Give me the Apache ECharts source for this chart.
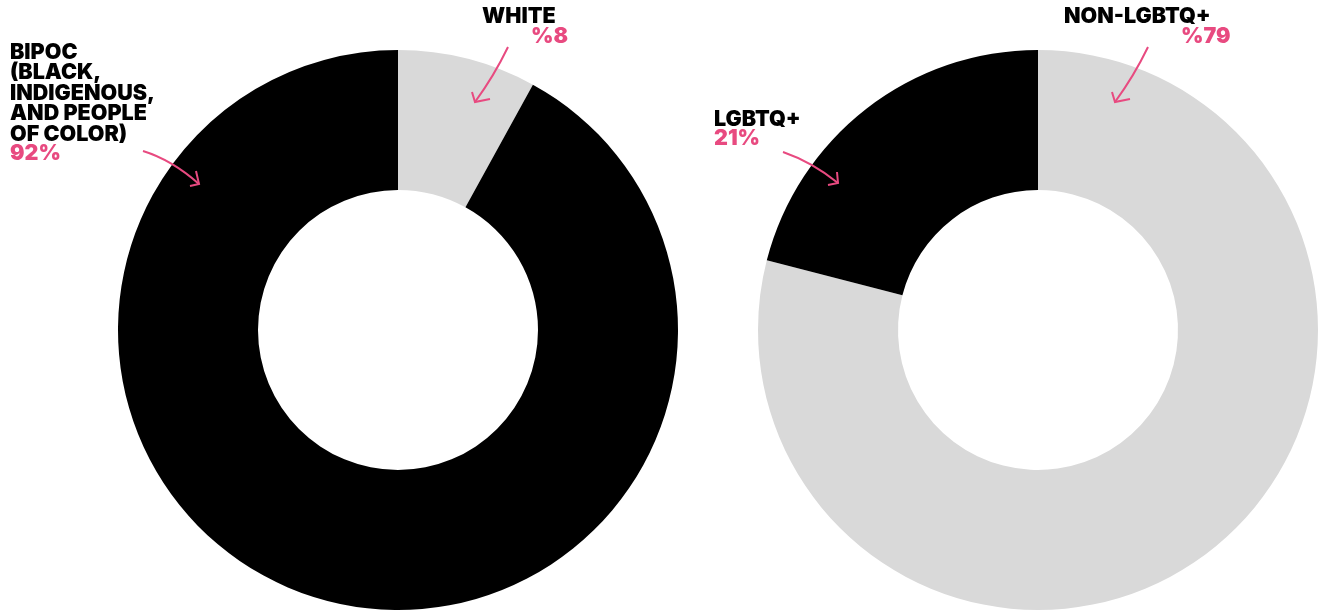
<!DOCTYPE html>
<html>
<head>
<meta charset="utf-8">
<script src="https://cdn.jsdelivr.net/npm/echarts@6/dist/echarts.min.js"></script>
<style>
  html,body{margin:0;padding:0;background:#fff;}
  #chart{width:1322px;height:612px;}
</style>
</head>
<body>
<div id="chart"></div>
<script>
// 数据
var raceNames=['WHITE','BIPOC'];
var raceValues=[8,92];
var raceLabels=['%8','92%'];
var lgbtNames=['NON-LGBTQ+','LGBTQ+'];
var lgbtValues=[79,21];
var lgbtLabels=['%79','21%'];
var bipocTitle='BIPOC\n(BLACK,\nINDIGENOUS,\nAND PEOPLE\nOF COLOR)';

var pink='#e84a80';
var font='"Inter","Noto Sans",sans-serif';

var chart=echarts.init(document.getElementById('chart'));

// 标签文字
function label(x,y,text,color){
  return {
    type:'text',x:x,y:y,z:100,
    style:{text:text,fill:color,font:'900 21.5px '+font,lineHeight:20.5}
  };
}
// 手绘箭头
function arrow(x1,y1,cx,cy,x2,y2,b1,b2){
  return [
    {type:'bezierCurve',z:100,shape:{x1:x1,y1:y1,x2:x2,y2:y2,cpx1:cx,cpy1:cy},
      style:{stroke:pink,lineWidth:2,fill:null}},
    {type:'polyline',z:100,shape:{points:[b1,[x2,y2],b2]},
      style:{stroke:pink,lineWidth:2,fill:null}}
  ];
}

var graphics=[
  label(10,42,bipocTitle,'#000'),
  label(10,143,raceLabels[1],pink),
  label(482,6,raceNames[0],'#000'),
  label(531,26,raceLabels[0],pink),
  label(714,109,lgbtNames[1],'#000'),
  label(714,128,lgbtLabels[1],pink),
  label(1064,6,lgbtNames[0],'#000'),
  label(1181,26,lgbtLabels[0],pink)
]
.concat(arrow(143,151,172,160,199,184,[196,171],[190,186]))
.concat(arrow(508,47,494,76,475,102,[472,92],[490,99]))
.concat(arrow(783,152,812,162,838,183,[837,172],[828,185]))
.concat(arrow(1148,47,1134,76,1115,102,[1112,92],[1130,99]));

function toData(names,values){
  return names.map(function(n,i){return {name:n,value:values[i]};});
}

chart.setOption({
  animation:false,
  series:[
    {
      type:'pie',
      center:[398,330],
      radius:[140,280],
      startAngle:90,
      clockwise:true,
      z:1,
      label:{show:false},
      labelLine:{show:false},
      emphasis:{disabled:true},
      color:['#d9d9d9','#000000'],
      data:toData(raceNames,raceValues)
    },
    {
      type:'pie',
      center:[1038,330],
      radius:[140,280],
      startAngle:90,
      clockwise:true,
      z:1,
      label:{show:false},
      labelLine:{show:false},
      emphasis:{disabled:true},
      color:['#d9d9d9','#000000'],
      data:toData(lgbtNames,lgbtValues)
    }
  ],
  graphic:graphics
});
</script>
</body>
</html>
